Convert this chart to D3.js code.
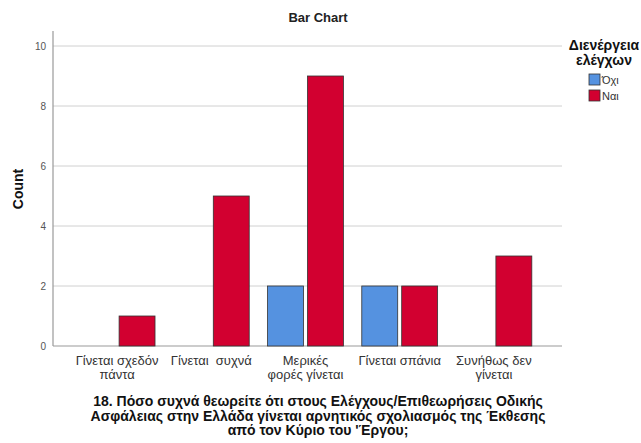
<!DOCTYPE html>
<html><head><meta charset="utf-8">
<script src="https://cdn.jsdelivr.net/npm/d3@7"></script>
<style>
body{margin:0;background:#fff;}
text{font-family:"Liberation Sans",Arial,sans-serif;}
</style></head><body>
<svg id="c" width="641" height="443"></svg>
<script>
const categories = [["Γίνεται σχεδόν","πάντα"],["Γίνεται  συχνά"],["Μερικές","φορές γίνεται"],["Γίνεται σπάνια"],["Συνήθως δεν","γίνεται"]];
const seriesNames = ["Όχι","Ναι"];
const valuesOxi = [0,0,2,2,0];
const valuesNai = [1,5,9,2,3];
const yTicks = [0,2,4,6,8,10];
const colors = ["#5592E0","#D20030"];
const xTitle = ["18. Πόσο συχνά θεωρείτε ότι στους Ελέγχους/Επιθεωρήσεις Οδικής","Ασφάλειας στην Ελλάδα γίνεται αρνητικός σχολιασμός της Έκθεσης","από τον Κύριο του 'Έργου;"];

const svg = d3.select("#c");
const x0 = 53, x1 = 562, yTop = 31, yBot = 346;
const y = d3.scaleLinear().domain([0,10]).range([346,46]);
const x = d3.scaleBand().domain(d3.range(categories.length)).range([70,541]).padding(0);
const xs = d3.scaleBand().domain([0,1]).range([0,x.bandwidth()]).paddingInner(0.1).paddingOuter(0.23);

// grid
svg.append("g").selectAll("line").data(yTicks.filter(d=>d>0)).join("line")
  .attr("x1",x0).attr("x2",x1).attr("y1",d=>y(d)).attr("y2",d=>y(d))
  .attr("stroke","#d0d0d0").attr("stroke-width",1);

// axes
const yAxis = d3.axisLeft(y).tickValues(yTicks).tickSize(0).tickPadding(7);
const gy = svg.append("g").attr("transform",`translate(${x0},0)`).call(yAxis);
gy.select(".domain").remove();
gy.selectAll("text").attr("font-size",10).attr("fill","#555");
svg.append("line").attr("x1",x0).attr("x2",x0).attr("y1",yTop).attr("y2",yBot).attr("stroke","#999").attr("stroke-width",1.2);
svg.append("line").attr("x1",x0).attr("x2",x1).attr("y1",yBot).attr("y2",yBot).attr("stroke","#999").attr("stroke-width",1.2);

// bars
const data = [valuesOxi, valuesNai];
categories.forEach((c,i)=>{
  data.forEach((vals,s)=>{
    const v = vals[i];
    if(v>0){
      svg.append("rect")
        .attr("x", x(i)+xs(s)).attr("width", xs.bandwidth())
        .attr("y", y(v)).attr("height", y(0)-y(v))
        .attr("fill", colors[s]).attr("stroke","#333").attr("stroke-width",0.8);
    }
  });
});

// x labels
categories.forEach((c,i)=>{
  const cx = x(i)+x.bandwidth()/2;
  const t = svg.append("text").attr("x", cx).attr("y",365)
    .attr("text-anchor","middle").attr("font-size",13).attr("fill","#333").style("white-space","pre");
  c.forEach((line,k)=>t.append("tspan").attr("x",cx).attr("dy",k?14:0).text(line));
});

// titles
svg.append("text").attr("x",318).attr("y",22).attr("text-anchor","middle").attr("font-size",13).attr("font-weight","bold").attr("fill","#222").text("Bar Chart");
svg.append("text").attr("transform","translate(23,189) rotate(-90)").attr("text-anchor","middle").attr("font-size",14).attr("font-weight","bold").attr("fill","#111").text("Count");
const xt = svg.append("text").attr("x",318).attr("y",406).attr("text-anchor","middle").attr("font-size",14).attr("font-weight","bold").attr("fill","#111");
xTitle.forEach((l,k)=>xt.append("tspan").attr("x",318).attr("dy",k?14.5:0).text(l));

// legend
const lt = svg.append("text").attr("x",604).attr("y",50).attr("text-anchor","middle").attr("font-size",14).attr("font-weight","bold").attr("fill","#111");
["Διενέργεια","ελέγχων"].forEach((l,k)=>lt.append("tspan").attr("x",604).attr("dy",k?15:0).text(l));
seriesNames.forEach((n,s)=>{
  svg.append("rect").attr("x",589).attr("y",74+s*16).attr("width",11).attr("height",11).attr("fill",colors[s]).attr("stroke","#333").attr("stroke-width",0.8);
  svg.append("text").attr("x",602).attr("y",84+s*16).attr("font-size",11).attr("fill","#333").text(n);
});
</script></body></html>
